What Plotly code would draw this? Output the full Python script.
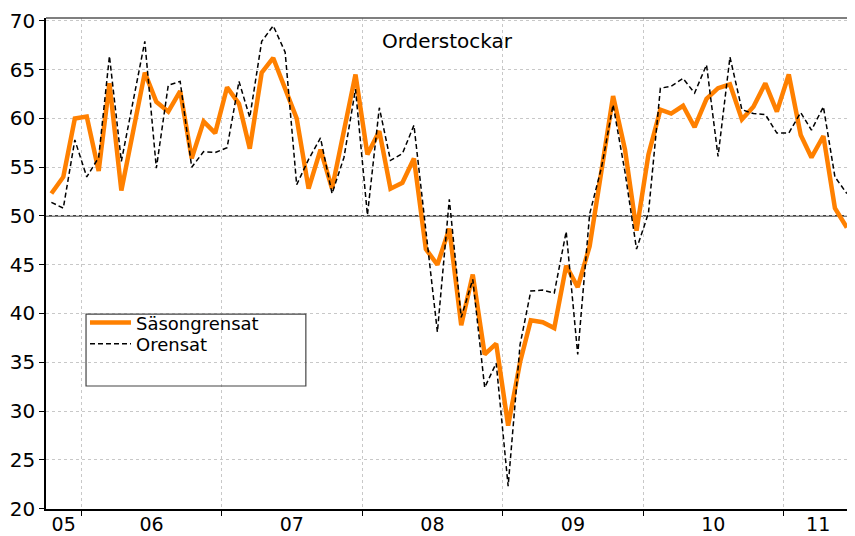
import pandas as pd
import plotly.graph_objects as go

# Monthly data, Oct 2005 - Jun 2011
start_month = "2005-10-01"
sasongrensat = [
    52.3, 54.0, 60.0,
    60.2, 54.6, 63.6, 52.6, 58.6, 64.7, 61.7, 60.7, 62.8, 55.9, 59.7, 58.5,
    63.2, 61.5, 56.9, 64.7, 66.2, 63.0, 60.0, 52.8, 56.8, 52.8, 58.7, 64.5,
    56.3, 58.7, 52.8, 53.4, 55.9, 46.6, 45.0, 48.7, 38.8, 44.0, 35.8, 36.9,
    28.5, 35.0, 39.3, 39.1, 38.5, 44.9, 42.7, 46.9, 54.7, 62.3, 56.8, 48.5,
    56.3, 60.9, 60.5, 61.3, 59.1, 62.0, 63.1, 63.5, 59.9, 61.2, 63.6, 60.7,
    64.5, 58.3, 56.0, 58.2, 50.8, 48.8,
]
orensat = [
    51.4, 50.8, 57.8,
    54.0, 56.0, 66.4, 55.6, 61.5, 67.9, 54.9, 63.4, 63.8, 55.0, 56.6, 56.5,
    57.0, 63.8, 60.1, 67.9, 69.5, 66.8, 53.2, 55.8, 58.0, 52.3, 56.0, 63.0,
    50.1, 61.1, 55.7, 56.4, 59.3, 48.3, 38.1, 51.7, 39.6, 43.5, 32.4, 34.9,
    22.3, 36.8, 42.3, 42.4, 42.1, 48.4, 35.8, 50.2, 55.0, 61.4, 54.5, 46.6,
    50.3, 63.1, 63.3, 64.1, 62.6, 65.5, 56.1, 66.3, 60.9, 60.5, 60.4, 58.5,
    58.5, 60.6, 58.8, 61.2, 54.0, 52.3,
]
year_labels = ["05", "06", "07", "08", "09", "10", "11"]
years = [2005, 2006, 2007, 2008, 2009, 2010, 2011]
range_start = pd.Timestamp("2005-10-01")
range_end = pd.Timestamp("2011-07-01")

months = pd.date_range(start_month, periods=len(sasongrensat), freq="MS") + pd.Timedelta(days=14)

# label positions: middle of each year's visible part; grid/ticks at year starts
label_pos = []
for y in years:
    a = max(pd.Timestamp(f"{y}-01-01"), range_start)
    b = min(pd.Timestamp(f"{y + 1}-01-01"), range_end)
    label_pos.append(a + (b - a) / 2)
year_starts = [pd.Timestamp(f"{y}-01-01") for y in years[1:]]

FONT = "DejaVu Sans"
ORANGE = "#FF8000"

fig = go.Figure()
fig.add_trace(go.Scatter(
    x=months, y=sasongrensat, mode="lines", name="Säsongrensat",
    line=dict(color=ORANGE, width=4.5), legend="legend",
))
fig.add_trace(go.Scatter(
    x=months, y=orensat, mode="lines", name="Orensat",
    line=dict(color="black", width=1.5, dash="5px,3px"), legend="legend2",
))

fig.add_shape(type="line", xref="paper", yref="y", x0=0, x1=1, y0=50, y1=50,
              line=dict(color="black", width=1.2), layer="below")
# top border and legend frame
fig.add_shape(type="line", xref="paper", yref="paper", x0=0, x1=1, y0=1, y1=1,
              line=dict(color="#555555", width=1.5), layer="above")
fig.add_shape(type="rect", xref="paper", yref="paper", x0=0.0496, x1=0.322,
              y0=0.2505, y1=0.397, line=dict(color="#444444", width=1.2),
              layer="above")

fig.add_annotation(text="Orderstockar", xref="paper", yref="paper", x=0.498, y=0.953,
                   xanchor="center", yanchor="middle",
                   showarrow=False, font=dict(family=FONT, size=20, color="black"))

# the page body has an 8px margin; size the figure so the plot area lands
# at the same pixels as the reference
fig.update_layout(
    width=847, height=528,
    margin=dict(l=38, r=2, t=10, b=27),
    paper_bgcolor="white", plot_bgcolor="white",
    font=dict(family=FONT, size=20, color="black"),
    legend=dict(x=0.0483, y=0.379, xanchor="left", yanchor="middle",
                bgcolor="rgba(0,0,0,0)", font=dict(size=18), itemwidth=41,
                borderwidth=0),
    legend2=dict(x=0.0483, y=0.336, xanchor="left", yanchor="middle",
                 bgcolor="rgba(0,0,0,0)", font=dict(size=18), itemwidth=41,
                 borderwidth=0),
    showlegend=True,
)
fig.update_xaxes(
    type="date", range=[range_start, range_end],
    tickmode="array", tickvals=label_pos, ticktext=year_labels,
    ticks="", showgrid=False, automargin=False, ticklabelstandoff=-3,
    showline=True, linecolor="black", linewidth=1.5,
    minor=dict(tickmode="array", tickvals=year_starts, ticks="outside", ticklen=5,
               tickcolor="black", showgrid=True, gridcolor="#c8c8c8",
               griddash="dot", gridwidth=1),
    tickfont=dict(size=19), zeroline=False,
)
fig.update_yaxes(
    range=[19.95, 70.3], tickmode="linear", tick0=20, dtick=5,
    ticks="outside", ticklen=5, tickcolor="black", automargin=False,
    showline=True, linecolor="black", linewidth=1.5,
    showgrid=True, gridcolor="#c8c8c8", griddash="dot", gridwidth=1,
    zeroline=False, tickfont=dict(size=20),
)

fig.write_html("out.html")
